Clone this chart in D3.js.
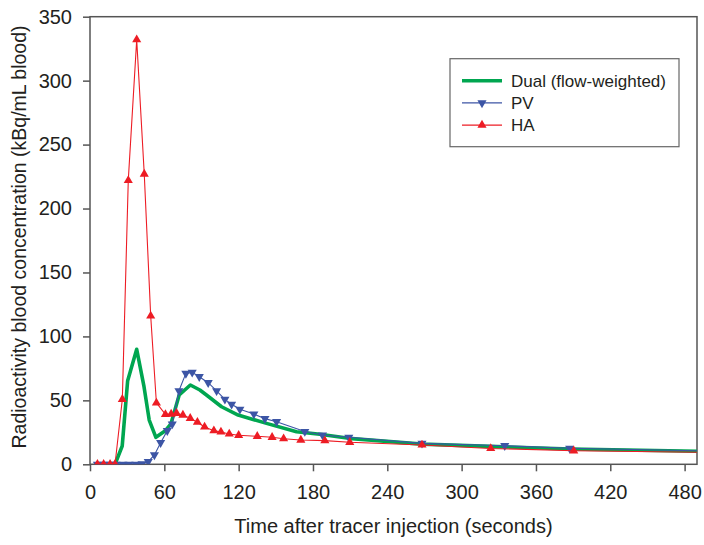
<!DOCTYPE html>
<html>
<head>
<meta charset="utf-8">
<script src="https://cdn.jsdelivr.net/npm/d3@7"></script>
<style>
body { margin: 0; background: #fff; }
text { font-family: "Liberation Sans", Arial, sans-serif; fill: #231f20; }
</style>
</head>
<body>
<svg id="chart" width="704" height="545"></svg>
<script>
// time (s) and concentration (kBq/mL)
var haTime = [6, 11, 16.2, 20.2, 26.1, 30.9, 37.7, 43.8, 49, 53.6, 60.9, 65.5, 69.9, 75, 80.9, 86.7, 92.5, 100, 105.7, 112.4, 120, 135, 147, 156.3, 170.2, 189.6, 209.7, 268, 323.5, 390.5, 520];
var haValue = [0, 0, 0, 0, 50.8, 222, 332, 227, 116, 48, 39, 39.3, 39.9, 38.5, 36, 32.9, 29.2, 26.3, 25.3, 23.7, 22.7, 21.9, 21.1, 20, 19, 18.5, 17.2, 15.1, 12.4, 10.6, 9];

var pvTime = [6, 11, 16, 21, 26.5, 31.5, 37, 42, 47, 52, 57, 62.4, 66.4, 71.8, 77.4, 82.5, 88.2, 95.4, 102.2, 108.9, 114.3, 121, 132.3, 141.2, 150.6, 173.4, 187.7, 208.9, 268, 334.8, 387.2, 520];
var pvValue = [0, 0, 0, 0, 0, 0, 0, 0.3, 2, 7.3, 16.9, 26.3, 31.5, 57.5, 71.1, 71.9, 68.5, 63.8, 57.5, 50.8, 46.9, 43, 39.3, 35.7, 33.3, 25.6, 22.9, 21.1, 16.4, 14.5, 12.5, 10];

var dualTime = [6, 11, 16, 20.2, 26, 30.4, 37.7, 43.6, 47.8, 53.2, 60.5, 65.3, 72, 81, 88.7, 94, 106.2, 119.6, 142.5, 166.7, 185.5, 209, 268, 335, 388, 520];
var dualValue = [0, 0, 0, 0, 14.3, 65.4, 89.9, 60.7, 34.6, 21.1, 26, 31.5, 54.2, 62, 58.1, 54.2, 45, 38.5, 32, 25.5, 23.5, 20.3, 15.8, 13.6, 12, 9.7];

var xTicks = [0, 60, 120, 180, 240, 300, 360, 420, 480];
var yTicks = [0, 50, 100, 150, 200, 250, 300, 350];
var legendNames = ["Dual (flow-weighted)", "PV", "HA"];

var svg = d3.select("#chart");
var plotL = 90, plotR = 697, plotT = 16.7, plotB = 464.3;

var x = d3.scaleLinear().domain([0, 490]).range([plotL, plotR]);
var y = d3.scaleLinear().domain([0, 350]).range([plotB, plotT]);

var green = "#00a650", blue = "#3c55a5", red = "#ed1c24";

// clip so the last segment stops at the frame
svg.append("clipPath").attr("id", "plotClip")
  .append("rect").attr("x", plotL).attr("y", plotT).attr("width", plotR - plotL).attr("height", plotB - plotT);

// axes
var xAxis = svg.append("g")
  .attr("transform", "translate(0," + plotB + ")")
  .call(d3.axisBottom(x).tickValues(xTicks).tickSize(7).tickSizeOuter(0).tickPadding(14));
var yAxis = svg.append("g")
  .attr("transform", "translate(" + plotL + ",0)")
  .call(d3.axisLeft(y).tickValues(yTicks).tickSize(7).tickSizeOuter(0).tickPadding(11));
[xAxis, yAxis].forEach(function (g) {
  g.select(".domain").remove();
  g.selectAll("line").attr("stroke", "#555").attr("stroke-width", 1.5);
  g.selectAll("text").attr("font-size", "20px").attr("fill", "#231f20")
    .attr("font-family", "Liberation Sans, Arial, sans-serif");
});

// frame around the plot
svg.append("rect")
  .attr("x", plotL).attr("y", plotT).attr("width", plotR - plotL).attr("height", plotB - plotT)
  .attr("fill", "none").attr("stroke", "#555").attr("stroke-width", 1.5);

var plot = svg.append("g").attr("clip-path", "url(#plotClip)");

function series(times, values) {
  return times.map(function (t, i) { return [t, values[i]]; });
}
var line = d3.line().x(function (d) { return x(d[0]); }).y(function (d) { return y(d[1]); });

var dual = series(dualTime, dualValue);
var pv = series(pvTime, pvValue);
var ha = series(haTime, haValue);

// Dual
plot.append("path").datum(dual)
  .attr("d", line).attr("fill", "none").attr("stroke", green)
  .attr("stroke-width", 3.6).attr("stroke-linejoin", "round");

// PV
plot.append("path").datum(pv)
  .attr("d", line).attr("fill", "none").attr("stroke", blue).attr("stroke-width", 1.1);
var tri = d3.symbol().type(d3.symbolTriangle).size(36);
plot.selectAll(".pv").data(pv).enter().append("path")
  .attr("class", "pv")
  .attr("d", tri)
  .attr("transform", function (d) { return "translate(" + x(d[0]) + "," + y(d[1]) + ") rotate(180)"; })
  .attr("fill", blue);

// HA
plot.append("path").datum(ha)
  .attr("d", line).attr("fill", "none").attr("stroke", red).attr("stroke-width", 1.1);
plot.selectAll(".ha").data(ha).enter().append("path")
  .attr("class", "ha")
  .attr("d", tri)
  .attr("transform", function (d) { return "translate(" + x(d[0]) + "," + y(d[1]) + ")"; })
  .attr("fill", red);

// axis titles
svg.append("text")
  .attr("x", (plotL + plotR) / 2).attr("y", 533)
  .attr("text-anchor", "middle").attr("font-size", "20px")
  .text("Time after tracer injection (seconds)");
svg.append("text")
  .attr("transform", "translate(26,237) rotate(-90)")
  .attr("text-anchor", "middle").attr("font-size", "19.5px")
  .text("Radioactivity blood concentration (kBq/mL blood)");

// legend
var legend = svg.append("g");
legend.append("rect")
  .attr("x", 450).attr("y", 58.7).attr("width", 229).attr("height", 88)
  .attr("fill", "#fff").attr("stroke", "#666").attr("stroke-width", 1.2);
var legendColors = [green, blue, red];
var legendWidths = [3.6, 1.1, 1.1];
legendNames.forEach(function (name, i) {
  var ly = 80.7 + i * 22.2;
  legend.append("line")
    .attr("x1", 462).attr("x2", 502).attr("y1", ly).attr("y2", ly)
    .attr("stroke", legendColors[i]).attr("stroke-width", legendWidths[i]);
  if (i > 0) {
    legend.append("path")
      .attr("d", tri)
      .attr("transform", "translate(482," + ly + ")" + (i === 1 ? " rotate(180)" : ""))
      .attr("fill", legendColors[i]);
  }
  legend.append("text")
    .attr("x", 511).attr("y", ly).attr("dy", "0.36em")
    .attr("font-size", "17px")
    .text(name);
});
</script>
</body>
</html>
